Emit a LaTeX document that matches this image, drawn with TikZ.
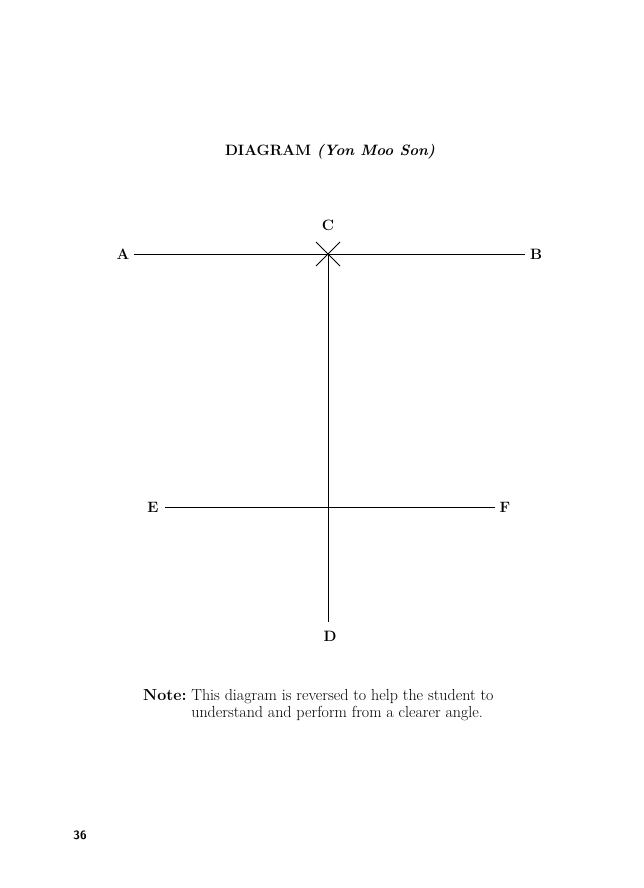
\documentclass[tikz,border=0pt]{standalone}
\usepackage{tikz}

\tikzset{
  pointlabel/.style={font=\fontsize{15}{17}\selectfont\bfseries, inner sep=0pt},
  guideline/.style={line width=1pt, black},
}

\begin{document}
\begin{tikzpicture}[x=1pt,y=-1pt]
\useasboundingbox (0,0) rectangle (644,888);

\node[font=\fontsize{15}{17}\selectfont\bfseries] (title) at (330,152) {DIAGRAM \textit{(Yon Moo Son)}};

% the points
\node[pointlabel] (A) at (123,254) {A};
\node[pointlabel] (B) at (536,254) {B};
\node[pointlabel] (C) at (328,225) {C};
\node[pointlabel] (E) at (153,507) {E};
\node[pointlabel] (F) at (505,507) {F};
\node[pointlabel] (D) at (330,636) {D};

\coordinate (cross) at (328,254);
\coordinate (mid) at (328,507);
\coordinate (foot) at (328,622);

\draw[guideline] ([xshift=4pt]A.east) -- ([xshift=-5pt]B.west);
\draw[guideline] ([xshift=6pt]E.east) -- ([xshift=-5pt]F.west);
\draw[guideline] (cross) -- (foot);

% the X at C
\draw[guideline] ([shift={(-12,-12)}]cross) -- ([shift={(12,12)}]cross);
\draw[guideline] ([shift={(-12,12)}]cross) -- ([shift={(12,-12)}]cross);

\node[anchor=north west, inner sep=0pt, font=\fontsize{16}{17}\selectfont] (note) at (143,688)
  {\begin{tabular}{@{}l@{\ }l@{}}
   \textbf{Note:} & This diagram is reversed to help the student to\\
   & understand and perform from a clearer angle.
   \end{tabular}};

\node[font=\fontsize{12}{14}\selectfont\sffamily\bfseries] (page) at (80,835) {36};
\end{tikzpicture}
\end{document}
